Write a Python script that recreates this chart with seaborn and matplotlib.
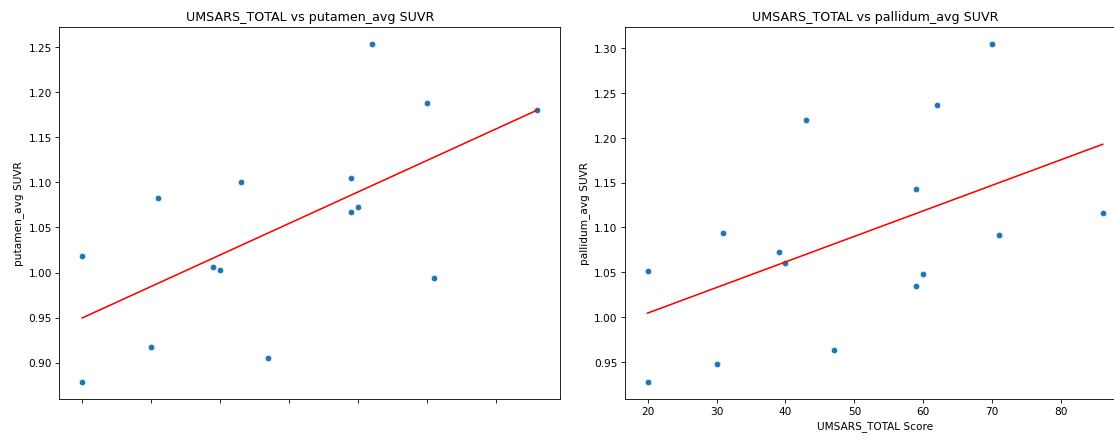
import numpy as np
import pandas as pd
import matplotlib
matplotlib.use("Agg")
import matplotlib.pyplot as plt
import seaborn as sns

# values
umsars_total = [20, 20, 30, 31, 39, 40, 43, 47, 59, 59, 60, 62, 70, 71, 86]
putamen_avg = [1.018, 0.879, 0.917, 1.083, 1.006, 1.003, 1.100, 0.905,
               1.105, 1.067, 1.073, 1.254, 1.188, 0.994, 1.180]
pallidum_avg = [1.051, 0.928, 0.948, 1.094, 1.073, 1.060, 1.220, 0.963,
                1.035, 1.143, 1.048, 1.237, 1.305, 1.092, 1.116]

df = pd.DataFrame({
    "UMSARS_TOTAL": umsars_total,
    "putamen_avg": putamen_avg,
    "pallidum_avg": pallidum_avg,
})

# larger figure drawn at low dpi -> same 1114x441 pixels, smaller text
fig = plt.figure(figsize=(14.66, 5.80), dpi=76)
ax1 = fig.add_axes([0.0534, 0.0941, 0.4493, 0.8435])
# right panel runs slightly past the figure edge, as in the cropped original
ax2 = fig.add_axes([0.5608, 0.0941, 0.4493, 0.8435])

for ax, region in [(ax1, "putamen_avg"), (ax2, "pallidum_avg")]:
    sns.scatterplot(data=df, x="UMSARS_TOTAL", y=region, ax=ax)
    # simple linear fit
    slope, intercept = np.polyfit(df["UMSARS_TOTAL"], df[region], 1)
    pred = slope * df["UMSARS_TOTAL"] + intercept
    ax.plot(df["UMSARS_TOTAL"], pred, color="red")
    ax.set_title(f"UMSARS_TOTAL vs {region} SUVR")
    ax.set_ylabel(f"{region} SUVR")

ax1.set_xlabel("")
ax1.tick_params(axis="x", labelbottom=False)
ax2.set_xlabel("UMSARS_TOTAL Score")

fig.savefig("out.png", dpi=76)
